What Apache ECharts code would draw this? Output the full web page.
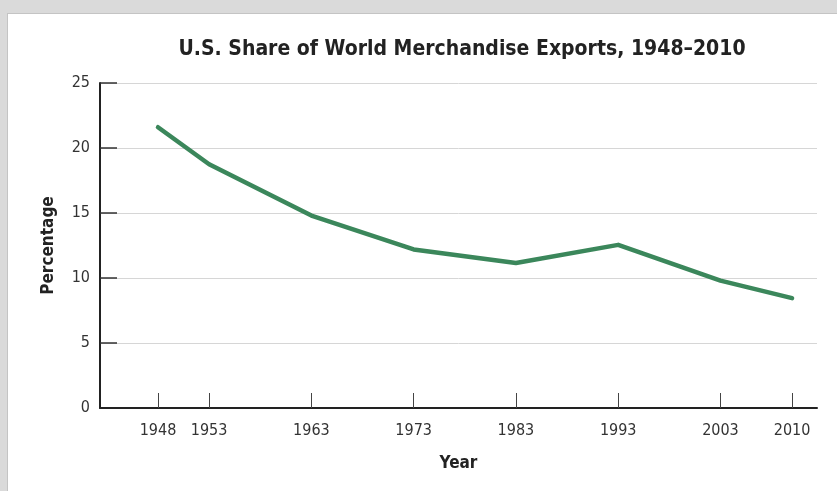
<!DOCTYPE html>
<html>
<head>
<meta charset="utf-8">
<script src="https://cdn.jsdelivr.net/npm/echarts@6/dist/echarts.min.js"></script>
<style>
html,body{margin:0;padding:0;width:837px;height:491px;background:#dadada;overflow:hidden;}
#panel{position:absolute;left:7px;top:13px;width:830px;height:478px;background:#fff;border-top:1px solid #c4c4c4;border-left:1px solid #c4c4c4;}
#chart{position:absolute;left:0;top:0;width:837px;height:491px;}
</style>
</head>
<body>
<div id="panel"></div>
<div id="chart"></div>
<script>
const titleText = 'U.S. Share of World Merchandise Exports, 1948–2010';
const years = [1948, 1953, 1963, 1973, 1983, 1993, 2003, 2010];
const shares = [21.6, 18.75, 14.8, 12.2, 11.15, 12.55, 9.8, 8.45];
const yTicks = [0, 5, 10, 15, 20, 25];
const xAxisName = 'Year';
const yAxisName = 'Percentage';

const font = '"Liberation Sans Narrow", "DejaVu Sans Condensed", "Roboto Condensed", sans-serif';
const chart = echarts.init(document.getElementById('chart'), null, {renderer: 'canvas'});
chart.setOption({
  backgroundColor: 'transparent',
  animation: false,
  title: {
    text: titleText,
    left: 457, top: 34, textAlign: 'center',
    textStyle: {fontFamily: font, fontWeight: 'bold', fontSize: 21, color: '#222'}
  },
  grid: {left: 100, right: 20, top: 83, bottom: 83},
  xAxis: {
    type: 'value',
    min: 1942.33, max: 2012.44,
    name: xAxisName, nameLocation: 'middle', nameGap: 47,
    nameTextStyle: {fontFamily: font, fontWeight: 'bold', fontSize: 17, color: '#222'},
    axisLine: {show: true, lineStyle: {color: '#222', width: 2}},
    axisTick: {show: true, inside: true, length: 15, customValues: years, lineStyle: {color: '#444', width: 1}},
    axisLabel: {customValues: years, margin: 15, fontFamily: font, fontSize: 16, color: '#333',
      formatter: v => String(v)},
    splitLine: {show: false},
    z: 5
  },
  yAxis: {
    type: 'value', min: 0, max: 25, interval: 5,
    name: yAxisName, nameLocation: 'middle', nameGap: 43, nameRotate: 90,
    nameTextStyle: {fontFamily: font, fontWeight: 'bold', fontSize: 17, color: '#222'},
    axisLine: {show: true, lineStyle: {color: '#222', width: 2}},
    axisTick: {show: true, inside: true, length: 17, lineStyle: {color: '#333', width: 1.5}},
    axisLabel: {margin: 10, fontFamily: font, fontSize: 16, color: '#333',
      formatter: v => yTicks.includes(v) ? String(v) : ''},
    splitLine: {show: true, lineStyle: {color: '#d6d6d6', width: 1}}
  },
  series: [{
    type: 'line',
    data: years.map((y, i) => [y, shares[i]]),
    symbol: 'none',
    lineStyle: {color: '#3b875b', width: 4.5, cap: 'round', join: 'round'},
    z: 3
  }]
});
</script>
</body>
</html>
